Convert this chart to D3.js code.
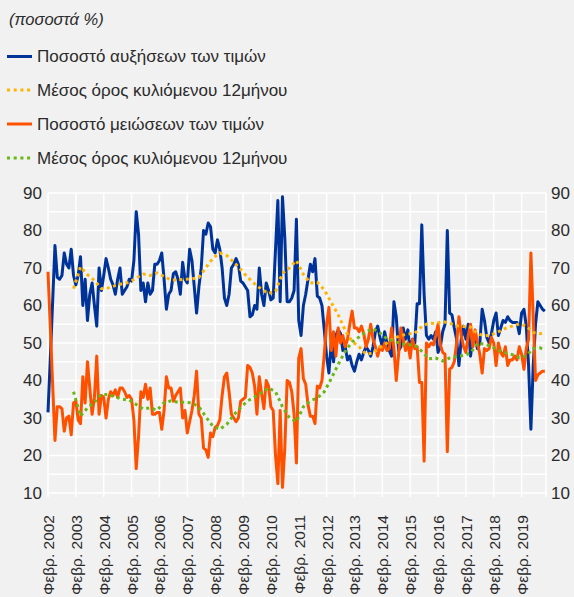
<!DOCTYPE html>
<html>
<head>
<meta charset="utf-8">
<script src="https://cdn.jsdelivr.net/npm/d3@7"></script>
<style>
  body { margin: 0; background: #f1f1f1; }
  svg { display: block; font-family: "Liberation Sans", Arial, sans-serif; }
  .grid line { stroke: #ffffff; stroke-width: 1.5; }
  .axis text { fill: #2b2b2b; }
</style>
</head>
<body>
<svg id="chart"></svg>
<script>
// Monthly values, Feb 2002 (index 0) to Dec 2019 (index 214)
const increases = [
  31.5, 46, 61, 76, 67.5, 67, 68, 74, 71, 70,
  75, 68, 65.5, 68, 73, 60, 67, 56, 63, 66,
  60, 54.5, 70, 64, 68, 72.5, 70, 67, 65.5, 63,
  67, 70, 63, 64, 65, 67, 66.5, 72, 85, 79,
  64, 66, 61, 66, 63, 64, 71, 71, 72, 74,
  67, 59, 63, 64, 68.5, 69, 67, 63, 71.5, 67,
  66, 75, 72, 65, 58, 65, 70, 80, 79, 82,
  81, 75, 74, 77.5, 75, 70, 62, 60, 63, 70,
  71, 72.5, 71, 66.5, 66, 65, 64, 57, 57.5, 60,
  59, 70, 63, 60, 66, 64, 61.5, 62, 75, 88,
  61, 89, 78, 61, 61, 62, 64, 83, 56, 52,
  60, 63, 67, 71, 69, 72.5, 62.5, 62, 60, 53.5,
  46.5, 42, 50, 45, 52, 53.5, 52.5, 48, 49, 45.5,
  46.5, 44, 42.5, 45, 47, 45.5, 47.5, 49, 48, 46.5,
  49, 53, 54.5, 51.5, 49, 53, 50, 48, 46.5, 61,
  57, 48, 49, 54, 51, 53.5, 48, 51, 50, 60.5,
  60.5, 81.5, 63, 52, 51, 52, 51, 53, 47.5, 49,
  53, 55, 80, 58, 57.5, 54, 51, 44, 51, 54.5,
  51, 55, 46.5, 51.5, 51, 48.5, 50, 59, 56, 51.5,
  50, 52.5, 56, 58, 52, 54, 56, 55.5, 57, 56,
  55.5, 55.5, 55.5, 52.5, 58, 59, 54.5, 44, 27, 44,
  55, 61, 60, 59, 58.5
];

const decreases = [
  69, 54, 39, 24, 33, 33, 32.5, 26.5, 30, 30.5,
  25.5, 34, 34.5, 29.5, 28.5, 41, 34, 45, 38, 31,
  35.5, 46.5, 31, 36, 35.5, 30, 35, 37, 36, 37.5,
  35.5, 38, 38, 37, 35.5, 36, 35, 29.5, 16.5, 25,
  37, 35.5, 39, 35, 38, 31, 31, 31.5, 31.5, 27,
  32, 41, 38, 38, 34.5, 36, 37, 38, 30, 32,
  26, 29, 32, 36, 42.5, 31, 30, 22, 21.5, 19.5,
  26, 25, 27.5, 28, 29.5, 36, 41, 42, 37, 31,
  30, 29, 30, 34.5, 35, 35.5, 44, 43.5, 42, 38.5,
  31, 41, 36.5, 32.5, 40, 38.5, 33, 32, 20, 12.5,
  32, 11.5, 22, 40, 39.5, 37, 31, 18, 46, 48.5,
  40.5, 39, 33.5, 30.5, 30.5, 28.5, 38.5, 38, 40, 47,
  55, 59.5, 48, 53, 46.5, 54, 50, 52, 49, 51,
  55, 58.5, 54, 54, 53, 54.5, 52.5, 49, 51, 55,
  51, 49, 46.5, 49, 48, 50, 48, 48.5, 54, 48.5,
  40, 47, 54, 51, 48, 50, 46, 51, 48.5, 49,
  39.5, 39.5, 18.5, 50, 49, 50, 49.5, 52, 55, 49.5,
  47.5, 47, 21, 43, 43.5, 45, 50, 57, 52, 49,
  47.5, 52, 55, 49, 53.5, 50, 47, 42, 48.5, 48,
  48.5, 51.5, 50, 44, 50, 47.5, 46.5, 49, 44, 45.5,
  45.5, 46.5, 45.5, 49, 47, 43, 48.5, 51, 74, 57,
  40, 41.5, 42, 42.5, 42.5
];

// 12-month moving averages at these month indices
const avgMonths = [
  11, 14, 17, 20, 23, 26, 29, 32, 35, 38, 41, 44, 47, 50, 53, 56, 59, 62, 65, 68,
  71, 74, 77, 80, 83, 86, 89, 92, 95, 98, 101, 104, 107, 110, 113, 116, 119, 122, 125, 128,
  131, 134, 137, 140, 143, 146, 149, 152, 155, 158, 161, 164, 167, 170, 173, 176, 179, 182, 185, 188,
  191, 194, 197, 200, 203, 206, 209, 212, 214
];

const increasesAvg = [
  64.5, 70.3, 68.2, 66.7, 64.5, 64.7, 65.3, 65.8, 66.2, 67.3, 68.4, 68, 68.7, 67.7, 66.8, 66.8, 67, 67.1, 67.5, 70.1,
  72.6, 74, 73.3, 71.6, 69.6, 67.5, 65.8, 64.3, 63.2, 63.8, 68.6, 70, 72, 68.3, 66, 66.2, 64.2, 60.8, 57.5, 53.4,
  50.4, 49, 47, 47.3, 48.8, 50, 51.3, 52, 52.4, 52.6, 54.4, 55.3, 55.2, 55.7, 55.3, 54.6, 54.4, 54.2, 52.5, 51.9,
  52.2, 53, 53.9, 54.5, 55.1, 54.5, 52.8, 52.5, 52.9
];

const decreasesAvg = [
  37, 30.5, 32.7, 34.2, 36.3, 36.3, 35.6, 35, 34.8, 33.6, 32.4, 32.7, 32.1, 34.1, 34.6, 34.2, 34.2, 34, 33, 30.3,
  27.8, 27, 28.3, 30.8, 32.8, 34.6, 35.6, 36.8, 38, 37, 33, 30, 29, 33, 34.6, 35.3, 37, 40.5, 44.3, 47.8,
  50.3, 51.6, 53, 53.8, 52.7, 51.1, 50.5, 49.8, 49.6, 49.4, 47.8, 45.8, 46, 45.2, 46, 46.4, 46.7, 47.3, 50, 49.7,
  49.1, 48, 47.4, 46.9, 46.1, 46.6, 48.5, 48.7, 48.1
];

const yearLabels = [
  'Φεβρ. 2002', 'Φεβρ. 2003', 'Φεβρ. 2004', 'Φεβρ. 2005', 'Φεβρ. 2006', 'Φεβρ. 2007',
  'Φεβρ. 2008', 'Φεβρ. 2009', 'Φεβρ. 2010', 'Φεβρ. 2011', 'Φεβρ. 2012', 'Φεβρ. 2013',
  'Φεβρ. 2014', 'Φεβρ. 2015', 'Φεβρ. 2016', 'Φεβρ. 2017', 'Φεβρ. 2018', 'Φεβρ. 2019'
];

const yTicks = [10, 20, 30, 40, 50, 60, 70, 80, 90];

const legendLabels = [
  'Ποσοστό αυξήσεων των τιμών',
  'Μέσος όρος κυλιόμενου 12μήνου',
  'Ποσοστό μειώσεων των τιμών',
  'Μέσος όρος κυλιόμενου 12μήνου'
];

const unitLabel = '(ποσοστά %)';

class PriceChangeChart {
  constructor(_config) {
    this.config = {
      parentElement: _config.parentElement,
      containerWidth: _config.containerWidth || 574,
      containerHeight: _config.containerHeight || 597,
      margin: _config.margin || {top: 193, right: 28, bottom: 104, left: 48}
    };
    this.InitVis();
  }

  InitVis() {
    let vis = this;

    vis.width = vis.config.containerWidth - vis.config.margin.left - vis.config.margin.right;
    vis.height = vis.config.containerHeight - vis.config.margin.top - vis.config.margin.bottom;

    vis.svg = d3.select(vis.config.parentElement)
        .attr('width', vis.config.containerWidth)
        .attr('height', vis.config.containerHeight);

    vis.chart = vis.svg.append('g')
        .attr('transform', `translate(${vis.config.margin.left},${vis.config.margin.top})`);

    vis.xScale = d3.scaleLinear()
        .domain([0, 214.5])
        .range([0, vis.width]);

    vis.yScale = d3.scaleLinear()
        .domain([10, 90])
        .range([vis.height, 0]);
  }

  RenderVis() {
    let vis = this;
    const tickMonths = yearLabels.map((d, i) => i * 12);

    // grid
    const grid = vis.chart.append('g').attr('class', 'grid');
    grid.selectAll('.hgrid')
        .data(d3.range(10, 91, 5))
        .join('line')
        .attr('x1', 0)
        .attr('x2', vis.width)
        .attr('y1', d => vis.yScale(d))
        .attr('y2', d => vis.yScale(d));
    grid.selectAll('.vgrid')
        .data(tickMonths.concat([214.5]))
        .join('line')
        .attr('x1', d => vis.xScale(d))
        .attr('x2', d => vis.xScale(d))
        .attr('y1', 0)
        .attr('y2', vis.height + 4);

    // y axes on both sides
    const yLeft = d3.axisLeft(vis.yScale).tickValues(yTicks).tickSize(0).tickPadding(6);
    const yRight = d3.axisRight(vis.yScale).tickValues(yTicks).tickSize(0).tickPadding(5);
    vis.chart.append('g').attr('class', 'axis').call(yLeft)
        .call(g => g.select('.domain').remove())
        .selectAll('text').style('font-size', '17px').attr('fill', '#2b2b2b');
    vis.chart.append('g').attr('class', 'axis')
        .attr('transform', `translate(${vis.width},0)`)
        .call(yRight)
        .call(g => g.select('.domain').remove())
        .selectAll('text').style('font-size', '17px').attr('fill', '#2b2b2b');

    // x labels, rotated
    const xAxis = d3.axisBottom(vis.xScale)
        .tickValues(tickMonths)
        .tickFormat((d, i) => yearLabels[i])
        .tickSize(0);
    vis.chart.append('g').attr('class', 'axis')
        .attr('transform', `translate(0,${vis.height})`)
        .call(xAxis)
        .call(g => g.select('.domain').remove())
        .selectAll('text')
        .style('font-size', '15.5px')
        .attr('fill', '#2b2b2b')
        .attr('text-anchor', 'end')
        .attr('transform', 'rotate(-90)')
        .attr('x', -22)
        .attr('y', 0)
        .attr('dy', '0.35em');

    const line = d3.line()
        .x((d, i) => vis.xScale(i))
        .y(d => vis.yScale(d));
    const avgLine = d3.line()
        .x(d => vis.xScale(d[0]))
        .y(d => vis.yScale(d[1]));

    vis.chart.append('path')
        .datum(increases)
        .attr('d', line)
        .attr('fill', 'none')
        .attr('stroke', '#003399')
        .attr('stroke-width', 3)
        .attr('stroke-linejoin', 'round');

    vis.chart.append('path')
        .datum(decreases)
        .attr('d', line)
        .attr('fill', 'none')
        .attr('stroke', '#ff5000')
        .attr('stroke-width', 3)
        .attr('stroke-linejoin', 'round');

    vis.chart.append('path')
        .datum(avgMonths.map((m, i) => [m, increasesAvg[i]]))
        .attr('d', avgLine)
        .attr('fill', 'none')
        .attr('stroke', '#ffb400')
        .attr('stroke-width', 3)
        .attr('stroke-dasharray', '3,3.5');

    vis.chart.append('path')
        .datum(avgMonths.map((m, i) => [m, decreasesAvg[i]]))
        .attr('d', avgLine)
        .attr('fill', 'none')
        .attr('stroke', '#66b814')
        .attr('stroke-width', 3)
        .attr('stroke-dasharray', '3,3.5');

    // title and legend
    vis.svg.append('text')
        .attr('x', 9)
        .attr('y', 25)
        .style('font-size', '16.5px')
        .style('font-style', 'italic')
        .attr('fill', '#2b2b2b')
        .text(unitLabel);

    const legendItems = [
      {label: legendLabels[0], color: '#003399', dash: null, y: 56.5},
      {label: legendLabels[1], color: '#ffb400', dash: '3,3.7', y: 90},
      {label: legendLabels[2], color: '#ff5000', dash: null, y: 124},
      {label: legendLabels[3], color: '#66b814', dash: '3,3.7', y: 158}
    ];
    const legend = vis.svg.append('g').selectAll('g')
        .data(legendItems)
        .join('g')
        .attr('transform', d => `translate(0,${d.y})`);
    legend.append('line')
        .attr('x1', 7)
        .attr('x2', 32)
        .attr('stroke', d => d.color)
        .attr('stroke-width', 3)
        .attr('stroke-dasharray', d => d.dash);
    legend.append('text')
        .attr('x', 37)
        .attr('dy', '0.35em')
        .style('font-size', '17px')
        .attr('fill', '#2b2b2b')
        .text(d => d.label);
  }
}

const chart = new PriceChangeChart({parentElement: '#chart'});
chart.RenderVis();
</script>
</body>
</html>
